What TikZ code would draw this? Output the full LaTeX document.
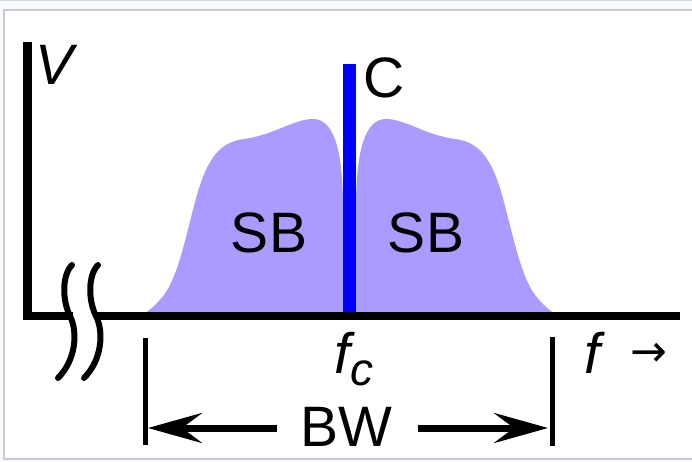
\documentclass[tikz,border=0pt]{standalone}
\usepackage{fontspec}
\setmainfont{Liberation Sans}
\newfontfamily\arrowfont{DejaVu Sans}
\usetikzlibrary{arrows.meta}
\definecolor{sbfill}{HTML}{A99BFF}
\definecolor{pagebg}{HTML}{F8F9FA}
\definecolor{topline}{HTML}{D5D8DC}
\definecolor{framec}{HTML}{C8CCD1}
\definecolor{carrierc}{HTML}{0000FF}
\begin{document}
\begin{tikzpicture}[x=1pt,y=-1pt,
  lbl/.style={inner sep=0pt, font=\fontsize{57}{60}\selectfont},
  ax/.style={line width=8.5pt, line join=miter},
  sb/.style={fill=sbfill},
  carrier/.style={draw=carrierc, line width=12.5pt},
  brk/.style={line width=6pt, line cap=round},
  bwbar/.style={line width=5pt},
  bwarrow/.style={line width=7pt, -{Stealth[length=54pt, width=30pt, inset=20pt]}}]
\useasboundingbox (0,0) rectangle (692,462);
% frame
\fill[pagebg] (0,0) rectangle (692,462);
\fill[topline] (0,0) rectangle (692,1.5);
\fill[white] (4,10) rectangle (692,459);
\draw[framec, line width=1.6pt] (692,10) -- (4,10) -- (4,459) -- (692,459);
% sidebands
\path[sb] (350,316) -- (355,260) -- (356,200) .. controls (357,150) and (365,119) .. (386,119) .. controls (405,119) and (425,135) .. (455,139) .. controls (480,142) and (492,160) .. (502,195) .. controls (512,230) and (520,275) .. (535,295) .. controls (543,305) and (550,311) .. (558,316) -- cycle;
\path[sb] (349,316) -- (344,260) -- (343,200) .. controls (342,150) and (334,119) .. (313,119) .. controls (294,119) and (274,135) .. (244,139) .. controls (219,142) and (207,160) .. (197,195) .. controls (187,230) and (179,275) .. (164,295) .. controls (156,305) and (149,311) .. (141,316) -- cycle;
% carrier
\coordinate (ctop) at (349.5,64);
\coordinate (cbot) at (349.5,316);
\draw[carrier] (ctop) -- (cbot);
% axes
\coordinate (vtop) at (27.5,42);
\coordinate (origin) at (27.5,316);
\coordinate (hend) at (680,316);
\draw[ax] (vtop) -- (origin) -- (hend);
% break mark
\fill[white] (73,310) rectangle (95,322);
\draw[brk] (72,265) .. controls (62,275) and (62,300) .. (70,316) .. controls (78,332) and (76,360) .. (58,378);
\draw[brk] (98,265) .. controls (88,275) and (88,300) .. (96,316) .. controls (104,332) and (102,360) .. (84,378);
% bandwidth bars
\coordinate (lbtop) at (145,338);
\coordinate (lbbot) at (145,445);
\coordinate (rbtop) at (552.5,337);
\coordinate (rbbot) at (552.5,446);
\draw[bwbar] (lbtop) -- (lbbot);
\draw[bwbar] (rbtop) -- (rbbot);
% arrows
\coordinate (la) at (277,428);
\coordinate (lt) at (148,428);
\coordinate (ra) at (418,428);
\coordinate (rt) at (548,428);
\draw[bwarrow] (la) -- (lt);
\draw[bwarrow] (ra) -- (rt);
% labels
\node[lbl, anchor=base west] (V) at (35,85) {\itshape V};
\node[lbl] (C) at (384,78) {C};
\node[lbl] (sbl) at (269,233) {SB};
\node[lbl] (sbr) at (426,233) {SB};
\node[lbl] (bw) at (346,427) {BW};
\node[lbl, anchor=base west] (fc) at (334,373) {\itshape f\raisebox{-12pt}{\fontsize{46}{46}\selectfont c}};
\node[lbl, anchor=base west] (fa) at (584,373) {\itshape f};
\node[inner sep=0pt, font=\arrowfont\fontsize{44}{44}\selectfont] (arr) at (649,355) {→};
\end{tikzpicture}
\end{document}
